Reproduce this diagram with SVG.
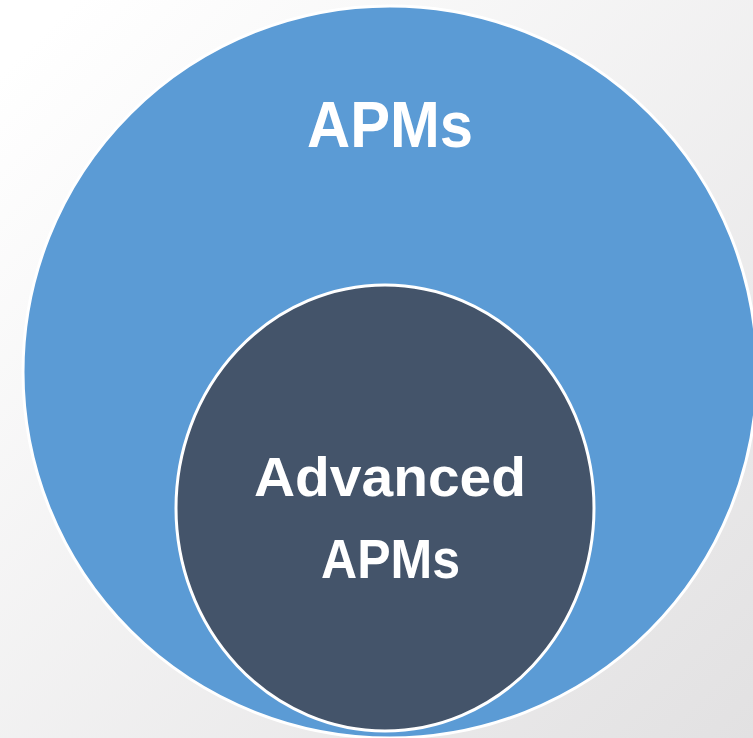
<svg xmlns="http://www.w3.org/2000/svg" width="753" height="738" viewBox="0 0 753 738">
<defs>
<linearGradient id="bg" x1="0" y1="0" x2="1" y2="1">
<stop offset="0.05" stop-color="#ffffff"/>
<stop offset="1" stop-color="#e2e1e2"/>
</linearGradient>
<style>
.lbl{font-family:"Century Gothic","URW Gothic","Liberation Sans",Arial,sans-serif;font-weight:bold;fill:#ffffff;text-anchor:middle}
.ring{stroke:#ffffff;stroke-width:3}
</style>
</defs>
<rect width="753" height="738" fill="url(#bg)"/>
<g id="apms">
<ellipse class="ring" cx="390" cy="372" rx="367" ry="366" fill="#5B9BD5"/>
<text class="lbl" x="390" y="147" font-size="64" textLength="166" lengthAdjust="spacingAndGlyphs">APMs</text>
</g>
<g id="advanced-apms">
<ellipse class="ring" cx="385" cy="508" rx="209" ry="223" fill="#44546A"/>
<text class="lbl" x="390" y="496" font-size="56" textLength="272" lengthAdjust="spacingAndGlyphs">Advanced</text>
<text class="lbl" x="390.5" y="578" font-size="56" textLength="139" lengthAdjust="spacingAndGlyphs">APMs</text>
</g>
<g id="connectors"/>
</svg>
